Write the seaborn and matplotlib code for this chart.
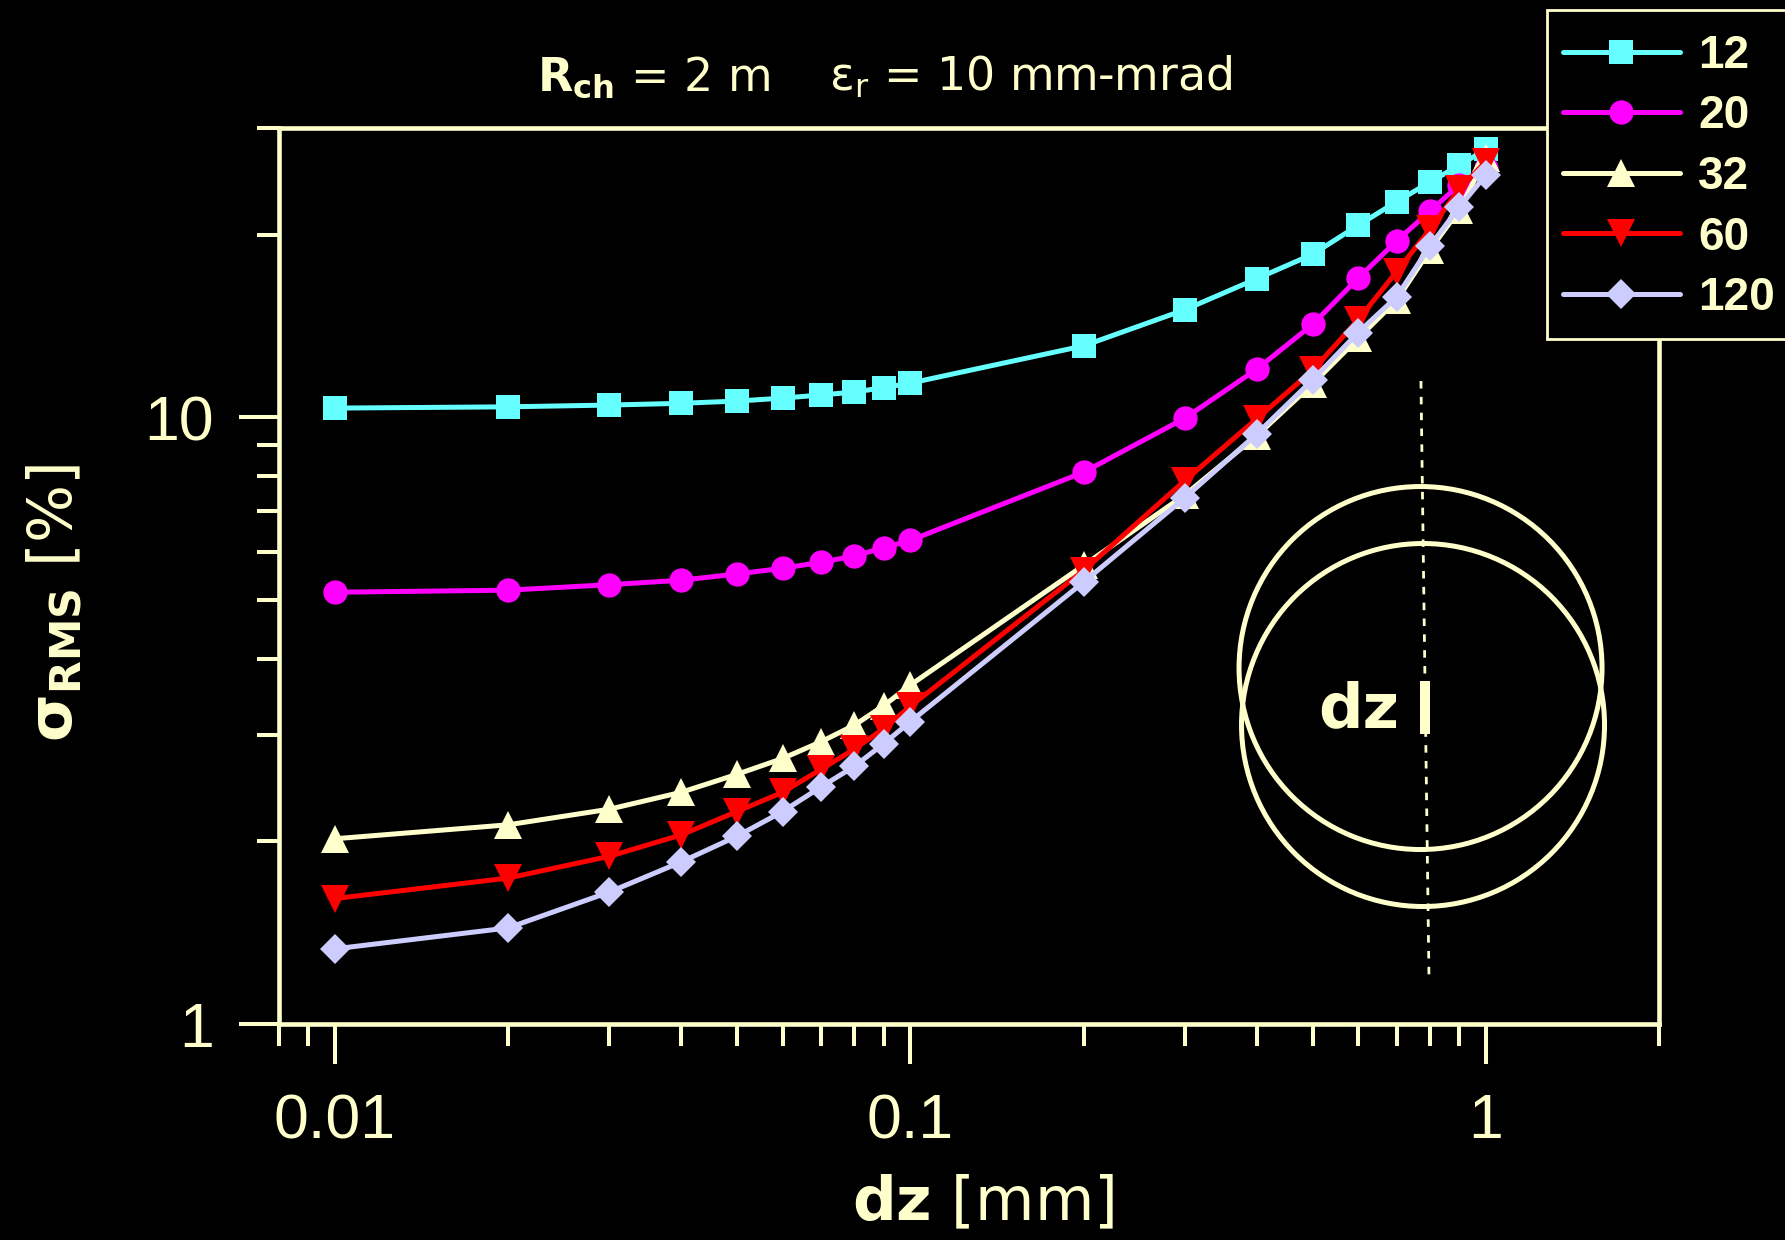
import numpy as np
import pandas as pd
import matplotlib
matplotlib.use("Agg")
import matplotlib.pyplot as plt
import seaborn as sns
from matplotlib.patches import Ellipse, Rectangle
from matplotlib.font_manager import FontProperties
from matplotlib.ticker import FixedLocator, FixedFormatter, LogLocator, NullFormatter

# ---- data -------------------------------------------------------------
dz = [0.01, 0.02, 0.03, 0.04, 0.05, 0.06, 0.07, 0.08, 0.09, 0.1,
      0.2, 0.3, 0.4, 0.5, 0.6, 0.7, 0.8, 0.9, 1.0]

sigma_12 = [10.36, 10.41, 10.48, 10.55, 10.64, 10.76, 10.89, 11.01, 11.20, 11.39,
            13.12, 15.05, 16.93, 18.57, 20.73, 22.68, 24.43, 26.05, 27.65]
sigma_20 = [5.15, 5.19, 5.30, 5.39, 5.52, 5.64, 5.77, 5.91, 6.10, 6.27,
            8.12, 9.97, 12.01, 14.23, 16.96, 19.54, 21.88, 24.2, 25.8]
sigma_32 = [2.02, 2.13, 2.26, 2.41, 2.58, 2.74, 2.92, 3.11, 3.35, 3.62,
            5.70, 7.45, 9.33, 11.35, 13.5, 15.6, 18.9, 22.0, 26.8]
sigma_60 = [1.61, 1.74, 1.89, 2.05, 2.24, 2.41, 2.63, 2.84, 3.07, 3.34,
            5.59, 7.87, 9.95, 11.95, 14.48, 17.39, 20.42, 23.8, 26.4]
sigma_120 = [1.33, 1.44, 1.65, 1.85, 2.04, 2.24, 2.46, 2.66, 2.90, 3.15,
             5.35, 7.37, 9.39, 11.53, 13.80, 15.80, 19.17, 22.23, 25.08]

series_labels = ["12", "20", "32", "60", "120"]
series_values = [sigma_12, sigma_20, sigma_32, sigma_60, sigma_120]

x_ticks = [0.01, 0.1, 1]
x_ticklabels = ["0.01", "0.1", "1"]
y_ticks = [1, 10]
y_ticklabels = ["1", "10"]

# ---- style ------------------------------------------------------------
CREAM = "#FFFFCC"
colors = ["#66FFFF", "#FF00FF", CREAM, "#FF0000", "#CCCCFF"]
markers = ["s", "o", "^", "v", "D"]
msizes = [17.5, 17.5, 20, 20, 15.5]

sns.set_theme(style="ticks", rc={
    "figure.facecolor": "black",
    "axes.facecolor": "black",
    "savefig.facecolor": "black",
})
plt.rcParams["font.family"] = ["Liberation Sans", "DejaVu Sans"]
plt.rcParams["mathtext.fontset"] = "dejavusans"

df = pd.DataFrame({
    "dz": dz * len(series_labels),
    "sigma": [v for vals in series_values for v in vals],
    "N": [lab for lab in series_labels for _ in dz],
})

fig = plt.figure(figsize=(17.85, 12.4), dpi=100)
ax = fig.add_axes([279 / 1785, 1 - 1024 / 1240, 1380 / 1785, 896 / 1240])
ax.set_facecolor("black")

handles = []
for lab, col, mk, ms in zip(series_labels, colors, markers, msizes):
    sub = df[df["N"] == lab]
    sns.lineplot(data=sub, x="dz", y="sigma", ax=ax, color=col, marker=mk,
                 markersize=ms, markeredgewidth=0, linewidth=3.6,
                 errorbar=None, legend=False)
    line = ax.lines[-1]
    line.set_linewidth(3.6)
    handles.append(line)

ax.set_xscale("log")
ax.set_yscale("log")
ax.set_xlim(0.008, 2)
ax.set_ylim(1, 30)

ax.xaxis.set_major_locator(FixedLocator(x_ticks))
ax.xaxis.set_major_formatter(FixedFormatter(x_ticklabels))
ax.yaxis.set_major_locator(FixedLocator(y_ticks))
ax.yaxis.set_major_formatter(FixedFormatter(y_ticklabels))
for axis in (ax.xaxis, ax.yaxis):
    axis.set_minor_locator(LogLocator(base=10, subs=np.arange(2, 10)))
    axis.set_minor_formatter(NullFormatter())

ax.tick_params(which="both", direction="out", color=CREAM, width=2.9,
               top=False, right=False)
ax.tick_params(which="major", length=29, labelsize=45, labelcolor=CREAM)
ax.tick_params(which="minor", length=15.5)
ax.tick_params(axis="x", which="major", pad=20)
ax.tick_params(axis="y", which="major", pad=18)

for sp in ax.spines.values():
    sp.set_color(CREAM)
    sp.set_linewidth(3.3)
    sp.set_visible(True)

# axis labels
ax.set_xlabel(r"$\mathbf{dz}$ [mm]", fontsize=44, color=CREAM, family="DejaVu Sans")
ax.set_ylabel(r"$\mathbf{\sigma_{RMS}}$ [%]", fontsize=44, color=CREAM, family="DejaVu Sans")
ax.xaxis.set_label_coords(0.51, -0.168)
ax.yaxis.set_label_coords(-0.14, 0.47)

# heading
fig.text(537 / 1785, 1 - 91 / 1240, r"$\mathbf{R_{ch}}$ = 2 m", fontsize=33,
         color=CREAM, ha="left", va="baseline", family="DejaVu Sans")
fig.text(829 / 1785, 1 - 91 / 1240, r"$\mathrm{\varepsilon_r}$ = 10 mm-mrad", fontsize=33,
         color=CREAM, ha="left", va="baseline", family="DejaVu Sans")

# sketch of two displaced rings with the dz offset
ax.add_patch(Ellipse((0.8272, 0.3973), 363 / 1380, 363 / 896, transform=ax.transAxes,
                     fill=False, edgecolor=CREAM, lw=3.6))
ax.add_patch(Ellipse((0.8290, 0.3337), 363 / 1380, 363 / 896, transform=ax.transAxes,
                     fill=False, edgecolor=CREAM, lw=3.6))
ax.plot([0.8275, 0.8333], [0.7176, 0.0536], transform=ax.transAxes, color=CREAM,
        lw=2.0, linestyle=(0, (2.7, 3)))
ax.plot([0.8304, 0.8304], [0.3237, 0.3828], transform=ax.transAxes, color=CREAM,
        lw=7.2, solid_capstyle="butt")
ax.text(0.812, 0.331, "dz", transform=ax.transAxes, ha="right", va="baseline",
        fontsize=45, fontweight="bold", color=CREAM, family="DejaVu Sans")

# legend box in the top-right corner
box = Rectangle((1547 / 1785, 1 - 339 / 1240), (1800 - 1547) / 1785, (339 - 10) / 1240,
                transform=fig.transFigure, facecolor="black", edgecolor=CREAM,
                lw=2.0, zorder=5)
fig.add_artist(box)
leg = fig.legend(handles, series_labels, loc="upper left",
                 bbox_to_anchor=(1563 / 1785, 1 - 34 / 1240),
                 frameon=False, prop=FontProperties(family="Liberation Sans",
                                                    weight="bold", size=33),
                 labelcolor=CREAM, handlelength=2.55, handletextpad=0.4,
                 labelspacing=0.36, borderpad=0, borderaxespad=0, numpoints=1)
leg.set_zorder(6)

fig.savefig("out.png", dpi=100, facecolor="black")
